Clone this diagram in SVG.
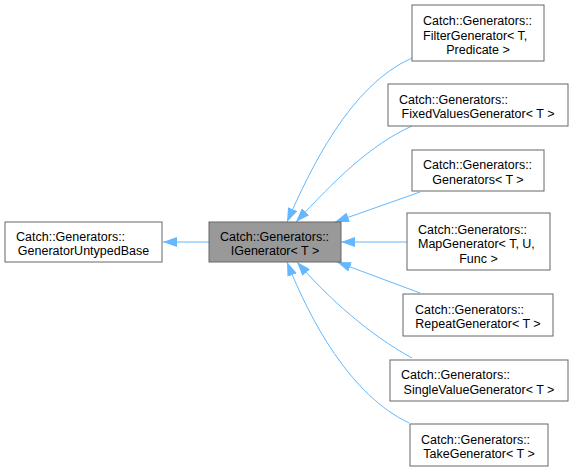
<svg xmlns="http://www.w3.org/2000/svg" width="574" height="471" viewBox="0 0 574 471">
<defs>
<style>
.box{fill:#ffffff;stroke:#666666;stroke-width:1}
.cur{fill:#999999;stroke:#666666;stroke-width:1}
text{font-family:"Liberation Sans",Arial,Helvetica,sans-serif;font-size:12.5px;fill:#000000}
.m{text-anchor:middle}
.e{fill:none;stroke:#63b8ff;stroke-width:1}
</style>
<marker id="ah" viewBox="0 0 14 10" refX="14" refY="5" markerWidth="14" markerHeight="10" markerUnits="userSpaceOnUse" orient="auto">
<path d="M0,0 L14,5 L0,10 z" fill="#63b8ff"/>
</marker>
</defs>
<rect width="574" height="471" fill="#ffffff"/>
<g id="edges">
<path class="e" marker-end="url(#ah)" d="M209,242 L163,242"/>
<path class="e" marker-end="url(#ah)" d="M412,58 C350,85 310,170 287,222"/>
<path class="e" marker-end="url(#ah)" d="M412,126 C370,145 335,180 296,222"/>
<path class="e" marker-end="url(#ah)" d="M420,192 L335,222"/>
<path class="e" marker-end="url(#ah)" d="M407,242 L341,242"/>
<path class="e" marker-end="url(#ah)" d="M420,293 L337,262"/>
<path class="e" marker-end="url(#ah)" d="M412,358 C370,335 330,300 297,262"/>
<path class="e" marker-end="url(#ah)" d="M409,423 C350,395 310,320 287,262"/>
</g>
<g id="GeneratorUntypedBase">
<rect class="box" x="5" y="222" width="157" height="40"/>
<text x="16" y="240.5">Catch::Generators::</text>
<text class="m" x="83.5" y="255">GeneratorUntypedBase</text>
</g>
<g id="IGenerator">
<rect class="cur" x="209" y="222" width="132" height="40"/>
<text x="220" y="240.5">Catch::Generators::</text>
<text class="m" x="275" y="255">IGenerator&lt; T &gt;</text>
</g>
<g id="FilterGenerator">
<rect class="box" x="412" y="5" width="132" height="56"/>
<text x="423" y="25">Catch::Generators::</text>
<text x="423" y="39.5">FilterGenerator&lt; T,</text>
<text class="m" x="478" y="54">Predicate &gt;</text>
</g>
<g id="FixedValuesGenerator">
<rect class="box" x="388" y="84" width="180" height="42"/>
<text x="399" y="103.5">Catch::Generators::</text>
<text class="m" x="478" y="118">FixedValuesGenerator&lt; T &gt;</text>
</g>
<g id="Generators">
<rect class="box" x="412" y="150" width="132" height="41"/>
<text x="423" y="169">Catch::Generators::</text>
<text class="m" x="478" y="183.5">Generators&lt; T &gt;</text>
</g>
<g id="MapGenerator">
<rect class="box" x="407" y="213" width="143" height="57"/>
<text x="418" y="233.5">Catch::Generators::</text>
<text x="418" y="248">MapGenerator&lt; T, U,</text>
<text class="m" x="478.5" y="262.5">Func &gt;</text>
</g>
<g id="RepeatGenerator">
<rect class="box" x="403" y="294" width="150" height="42"/>
<text x="415" y="313.5">Catch::Generators::</text>
<text class="m" x="478" y="328">RepeatGenerator&lt; T &gt;</text>
</g>
<g id="SingleValueGenerator">
<rect class="box" x="390" y="360" width="178" height="41"/>
<text x="401" y="379">Catch::Generators::</text>
<text class="m" x="479" y="393.5">SingleValueGenerator&lt; T &gt;</text>
</g>
<g id="TakeGenerator">
<rect class="box" x="410" y="424" width="138" height="42"/>
<text x="421" y="443.5">Catch::Generators::</text>
<text class="m" x="479" y="458">TakeGenerator&lt; T &gt;</text>
</g>
</svg>
